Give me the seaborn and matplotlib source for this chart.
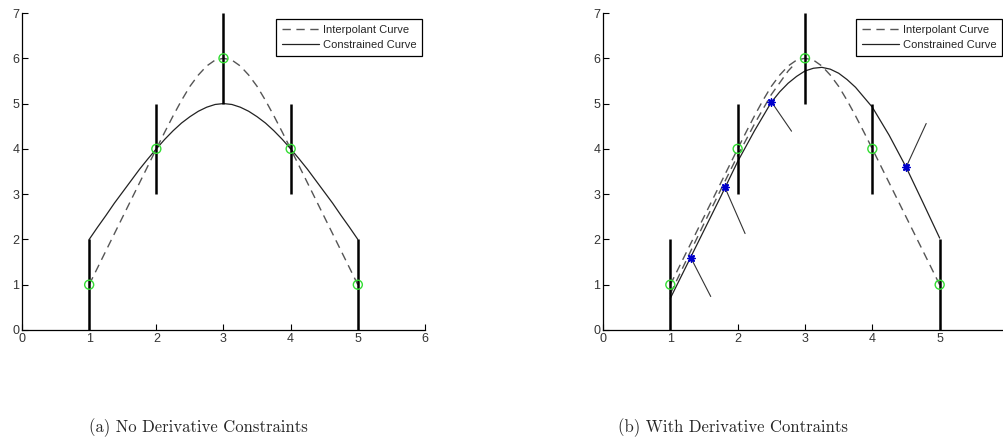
import matplotlib
matplotlib.use("Agg")
import matplotlib.pyplot as plt
import seaborn as sns

# ---------------- data ----------------
data_x = [1, 2, 3, 4, 5]
data_y = [1, 4, 6, 4, 1]

bar_x = [1, 2, 3, 4, 5]
bar_lo = [0, 3, 5, 3, 0]
bar_hi = [2, 5, 7, 5, 2]

fine_x = [1.0, 1.125, 1.25, 1.375, 1.5, 1.625, 1.75, 1.875, 2.0,
          2.125, 2.25, 2.375, 2.5, 2.625, 2.75, 2.875, 3.0,
          3.125, 3.25, 3.375, 3.5, 3.625, 3.75, 3.875, 4.0,
          4.125, 4.25, 4.375, 4.5, 4.625, 4.75, 4.875, 5.0]
interp_y = [1.00, 1.375, 1.75, 2.125, 2.50, 2.875, 3.25, 3.625, 4.00,
            4.37, 4.73, 5.07, 5.38, 5.63, 5.83, 5.96, 6.00,
            5.96, 5.83, 5.63, 5.38, 5.07, 4.73, 4.37, 4.00,
            3.625, 3.25, 2.875, 2.50, 2.125, 1.75, 1.375, 1.00]
constr_left_y = [2.00, 2.27, 2.53, 2.80, 3.05, 3.30, 3.55, 3.78, 4.00,
                 4.21, 4.40, 4.57, 4.71, 4.83, 4.92, 4.98, 5.00,
                 4.98, 4.92, 4.83, 4.71, 4.57, 4.40, 4.21, 4.00,
                 3.78, 3.55, 3.30, 3.05, 2.80, 2.53, 2.27, 2.00]

right_x = [1.0, 1.25, 1.5, 1.75, 2.0, 2.25, 2.5, 2.625, 2.75, 2.875, 3.0,
           3.125, 3.25, 3.375, 3.5, 3.625, 3.75, 4.0, 4.25, 4.5, 4.75, 5.0]
constr_right_y = [0.70, 1.45, 2.20, 2.95, 3.72, 4.40, 5.03, 5.26, 5.45, 5.60,
                  5.72, 5.78, 5.80, 5.76, 5.67, 5.53, 5.36, 4.92, 4.30, 3.60,
                  2.82, 2.03]

inner_x = [1.0, 1.25, 1.5, 1.75, 2.0, 2.25, 2.5, 2.75, 2.85]
inner_y = [0.80, 1.58, 2.35, 3.10, 3.85, 4.55, 5.20, 5.72, 5.88]

star_x = [1.31, 1.81, 2.50, 4.50]
star_y = [1.58, 3.15, 5.04, 3.59]
deriv_end_x = [1.60, 2.11, 2.80, 4.80]
deriv_end_y = [0.74, 2.13, 4.39, 4.56]

x_ticks = [0, 1, 2, 3, 4, 5, 6]
y_ticks = [0, 1, 2, 3, 4, 5, 6, 7]
captions = ["(a) No Derivative Constraints", "(b) With Derivative Contraints"]
legend_labels = ["Interpolant Curve", "Constrained Curve"]

# ---------------- style ----------------
sns.set_style("ticks")
plt.rcParams["font.family"] = ["Liberation Sans", "DejaVu Sans"]

W, H = 1004, 447
fig = plt.figure(figsize=(W / 100, H / 100), dpi=100)
fig.patch.set_facecolor("white")

ax_l = fig.add_axes([22 / W, (H - 330) / H, 403 / W, 317 / H])
ax_r = fig.add_axes([603 / W, (H - 330) / H, 404 / W, 317 / H])

DASH_C = "#555555"
SOLID_C = "#222222"
GREEN = "#33dd33"
BLUE = "#0000cc"


def style_axes(ax, show_last_x=True):
    ax.set_xlim(0, 6)
    ax.set_ylim(0, 7)
    ax.set_xticks(x_ticks)
    ax.set_yticks(y_ticks)
    xl = [str(t) for t in x_ticks]
    if not show_last_x:
        xl[-1] = ""
    ax.set_xticklabels(xl)
    ax.set_yticklabels([str(t) for t in y_ticks])
    for s in ["top", "right"]:
        ax.spines[s].set_visible(False)
    for s in ["left", "bottom"]:
        ax.spines[s].set_color("black")
        ax.spines[s].set_linewidth(0.9)
    ax.tick_params(direction="in", length=4, width=0.8, colors="black",
                   labelcolor="#333333", labelsize=9, pad=2)
    ax.set_xlabel("")
    ax.set_ylabel("")
    ax.set_facecolor("white")


def draw_common(ax, constr_x, constr_y):
    ax.vlines(bar_x, bar_lo, bar_hi, colors="black", linewidth=1.8, zorder=3)
    sns.lineplot(x=fine_x, y=interp_y, ax=ax, color=DASH_C, linewidth=1.0,
                 linestyle=(0, (6, 4)), sort=False, label=legend_labels[0],
                 zorder=2)
    sns.lineplot(x=constr_x, y=constr_y, ax=ax, color=SOLID_C, linewidth=0.9,
                 sort=False, label=legend_labels[1], zorder=2)
    sns.scatterplot(x=data_x, y=data_y, ax=ax, marker="o", s=42,
                    facecolors="none", edgecolor=GREEN, linewidth=1.0,
                    zorder=4)


def add_legend(ax, right_px):
    handles = [l for l in ax.get_lines() if l.get_label() in legend_labels]
    leg = ax.legend(handles=handles, labels=legend_labels, loc="upper right",
                    bbox_to_anchor=(right_px / W, 1 - 19 / H),
                    bbox_transform=fig.transFigure, borderaxespad=0,
                    fontsize=8, frameon=True, fancybox=False,
                    handlelength=3.4, handletextpad=0.3, borderpad=0.5,
                    labelspacing=0.5)
    fr = leg.get_frame()
    fr.set_edgecolor("black")
    fr.set_linewidth(0.9)
    fr.set_alpha(1)


# left panel
draw_common(ax_l, fine_x, constr_left_y)
style_axes(ax_l)
add_legend(ax_l, 422)

# right panel
draw_common(ax_r, right_x, constr_right_y)
sns.lineplot(x=inner_x, y=inner_y, ax=ax_r, color=DASH_C, linewidth=1.0,
             linestyle=(0, (6, 4)), sort=False, zorder=2)
for sx, sy, ex, ey in zip(star_x, star_y, deriv_end_x, deriv_end_y):
    ax_r.plot([sx, ex], [sy, ey], color="#333333", linewidth=0.8, zorder=2)
ax_r.scatter(star_x, star_y, marker=(8, 2, 0), s=26, color=BLUE,
             linewidth=1.1, zorder=5)
style_axes(ax_r, show_last_x=False)
add_legend(ax_r, 1002)

# captions
fig.text(198 / W, 1 - 428 / H, captions[0], ha="center", va="center",
         fontsize=12, family=["cmr10", "DejaVu Serif"])
fig.text(733 / W, 1 - 428 / H, captions[1], ha="center", va="center",
         fontsize=12, family=["cmr10", "DejaVu Serif"])

fig.savefig("out.png", dpi=100, facecolor="white")
